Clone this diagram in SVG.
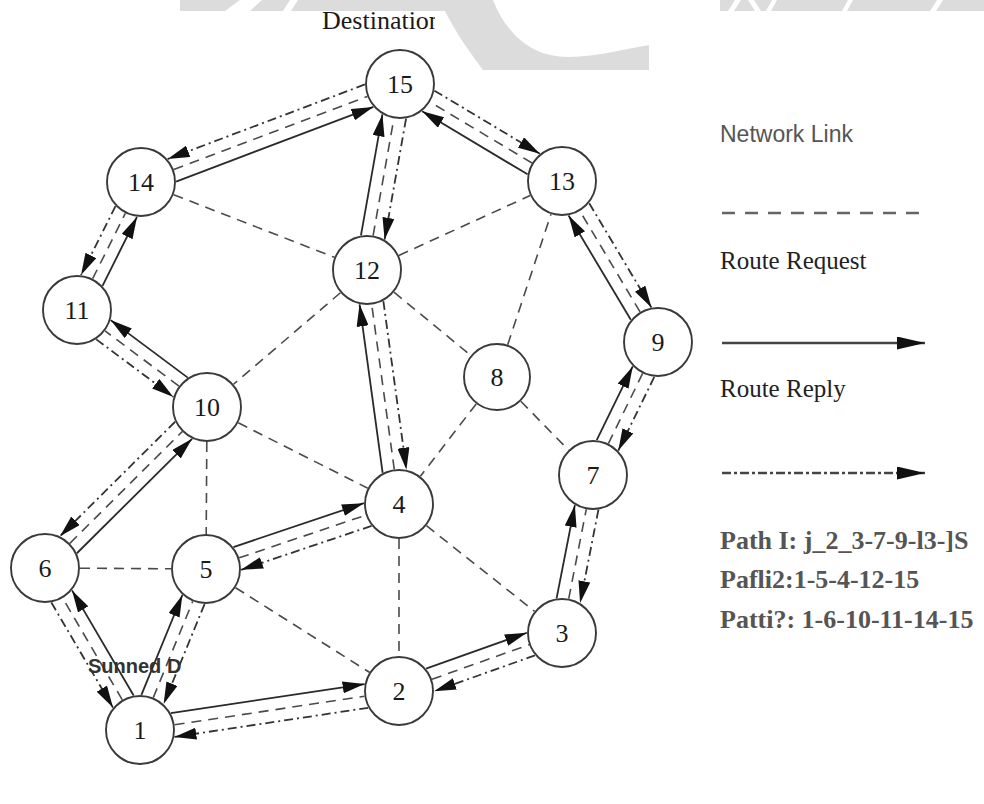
<svg xmlns="http://www.w3.org/2000/svg" width="984" height="804" viewBox="0 0 984 804">
  <style>
    .node circle { fill: #fff; stroke: #3a3a3a; stroke-width: 1.9; }
    .node text { font-family: "Liberation Serif", serif; font-size: 26px; fill: #1a1a1a; text-anchor: middle; }
    .link { stroke: #4a4a4a; stroke-width: 1.6; stroke-dasharray: 10 7; fill: none; }
    .req { stroke: #2a2a2a; stroke-width: 1.8; fill: none; marker-end: url(#ah); }
    .rep { stroke: #333; stroke-width: 1.8; fill: none; stroke-dasharray: 9 4 2 4; marker-end: url(#ah); }
    .wm { fill: #dcdcdc; }
    .legend-sans { font-family: "Liberation Sans", Arial, sans-serif; font-size: 23px; fill: #555; }
    .legend-serif { font-family: "Liberation Serif", serif; font-size: 25px; fill: #222; }
    .paths { font-family: "Liberation Serif", serif; font-size: 26px; font-weight: bold; fill: #555; }
  </style>
  <defs>
    <marker id="ah" markerUnits="userSpaceOnUse" markerWidth="22" markerHeight="12" refX="22" refY="6" orient="auto">
      <path d="M0,0 L22,6 L0,12 Z" fill="#111"/>
    </marker>
    <marker id="ahL" markerUnits="userSpaceOnUse" markerWidth="28" markerHeight="13" refX="28" refY="6.5" orient="auto">
      <path d="M0,0 L28,6.5 L0,13 Z" fill="#111"/>
    </marker>
    <clipPath id="titleClip"><rect x="300" y="0" width="135" height="60"/></clipPath>
  </defs>

  <rect width="984" height="804" fill="#fff"/>

  <!-- faint background mark along the top edge -->
  <g id="backdrop">
    <rect class="wm" x="180" y="0" width="265" height="11"/>
    <polygon points="225,11 240,0 262,0 250,11" fill="#fff"/>
    <polygon points="283,11 290,0 298,0 291,11" fill="#fff"/>
    <path class="wm" d="M440,0 L493,0 C508,38 535,57 568,57 C598,57 628,48 649,45 L649,70 L483,70 C465,46 450,24 440,0 Z"/>
    <rect class="wm" x="720" y="0" width="264" height="11"/>
    <polygon points="728,11 735,0 741,0 734,11" fill="#fff"/>
    <polygon points="748,0 755,11 761,11 754,0" fill="#fff"/>
    <polygon points="766,11 772,0 777,0 771,11" fill="#fff"/>
    <polygon points="842,11 848,0 853,0 847,11" fill="#fff"/>
    <polygon points="930,11 937,0 943,0 936,11" fill="#fff"/>
  </g>

  <text x="322" y="29" clip-path="url(#titleClip)" font-family="'Liberation Serif', serif" font-size="26" fill="#1a1a1a">Destination</text>

  <g id="connectors">
    <!-- plain network links -->
    <line class="link" x1="173.61" y1="194.70" x2="334.39" y2="257.30"/>
    <line class="link" x1="398.84" y1="255.47" x2="530.16" y2="195.53"/>
    <line class="link" x1="340.41" y1="292.76" x2="233.59" y2="384.24"/>
    <line class="link" x1="394.02" y1="292.24" x2="470.75" y2="355.39"/>
    <line class="link" x1="507.70" y1="344.73" x2="550.98" y2="214.22"/>
    <line class="link" x1="476.23" y1="403.92" x2="420.38" y2="476.29"/>
    <line class="link" x1="520.79" y1="401.29" x2="568.51" y2="450.00"/>
    <line class="link" x1="238.24" y1="422.78" x2="367.76" y2="488.22"/>
    <line class="link" x1="206.8" y1="442" x2="206.2" y2="534"/>
    <line class="link" x1="80" y1="568.2" x2="171" y2="568.8"/>
    <line class="link" x1="235.58" y1="587.70" x2="369.42" y2="672.30"/>
    <line class="link" x1="399" y1="539" x2="399" y2="656"/>
    <line class="link" x1="426.44" y1="525.72" x2="534.56" y2="611.28"/>

    <!-- path 1: 1-2-3-7-9-13-15 -->
    <line class="req" x1="170.84" y1="713.22" x2="364.58" y2="684.04"/>
    <line class="link" x1="174.61" y1="724.79" x2="364.39" y2="696.21"/>
    <line class="rep" x1="368.16" y1="707.78" x2="174.42" y2="736.96"/>

    <line class="req" x1="426.07" y1="668.63" x2="526.89" y2="632.75"/>
    <line class="link" x1="431.98" y1="679.27" x2="529.02" y2="644.73"/>
    <line class="rep" x1="534.93" y1="655.37" x2="434.11" y2="691.25"/>

    <line class="req" x1="556.58" y1="598.31" x2="574.87" y2="505.07"/>
    <line class="link" x1="568.74" y1="598.65" x2="586.26" y2="509.35"/>
    <line class="rep" x1="598.43" y1="509.69" x2="580.13" y2="602.93"/>

    <line class="req" x1="596.71" y1="440.08" x2="632.73" y2="366.38"/>
    <line class="link" x1="608.37" y1="443.55" x2="642.63" y2="373.45"/>
    <line class="rep" x1="654.29" y1="376.92" x2="618.27" y2="450.62"/>

    <line class="req" x1="630.79" y1="319.81" x2="568.59" y2="215.49"/>
    <line class="link" x1="640.07" y1="311.94" x2="579.92" y2="211.06"/>
    <line class="rep" x1="589.21" y1="203.19" x2="651.41" y2="307.51"/>

    <line class="req" x1="527.53" y1="174.35" x2="422.15" y2="111.25"/>
    <line class="link" x1="531.97" y1="163.02" x2="430.03" y2="101.98"/>
    <line class="rep" x1="434.47" y1="90.65" x2="539.85" y2="153.75"/>

    <!-- path 2: 1-5-4-12-15 -->
    <line class="req" x1="141.41" y1="694.92" x2="182.38" y2="594.98"/>
    <line class="link" x1="153.28" y1="697.61" x2="192.72" y2="601.39"/>
    <line class="rep" x1="204.58" y1="604.08" x2="163.62" y2="704.02"/>

    <line class="req" x1="233.44" y1="547.10" x2="363.90" y2="503.16"/>
    <line class="link" x1="239.17" y1="557.83" x2="365.83" y2="515.17"/>
    <line class="rep" x1="371.56" y1="525.90" x2="241.10" y2="569.84"/>

    <line class="req" x1="382.64" y1="472.93" x2="359.58" y2="304.33"/>
    <line class="link" x1="394.26" y1="469.32" x2="371.74" y2="304.68"/>
    <line class="rep" x1="383.36" y1="301.07" x2="406.42" y2="469.67"/>

    <line class="req" x1="360.95" y1="235.41" x2="382.42" y2="114.39"/>
    <line class="link" x1="373.11" y1="235.54" x2="393.89" y2="118.46"/>
    <line class="rep" x1="406.06" y1="118.59" x2="384.58" y2="239.61"/>

    <!-- path 3: 1-6-10-11-14-15 -->
    <line class="req" x1="133.66" y1="695.46" x2="72.04" y2="590.40"/>
    <line class="link" x1="122.29" y1="699.81" x2="62.71" y2="598.19"/>
    <line class="rep" x1="51.34" y1="602.54" x2="112.96" y2="707.60"/>

    <line class="req" x1="76.87" y1="553.25" x2="192.05" y2="438.77"/>
    <line class="link" x1="69.82" y1="543.33" x2="182.18" y2="431.67"/>
    <line class="rep" x1="175.13" y1="421.75" x2="59.95" y2="536.23"/>

    <line class="req" x1="187.73" y1="377.65" x2="110.63" y2="320.11"/>
    <line class="link" x1="178.95" y1="386.07" x2="105.05" y2="330.93"/>
    <line class="rep" x1="96.27" y1="339.35" x2="173.37" y2="396.89"/>

    <line class="req" x1="102.49" y1="285.85" x2="136.97" y2="216.89"/>
    <line class="link" x1="92.65" y1="278.70" x2="125.35" y2="213.30"/>
    <line class="rep" x1="115.51" y1="206.15" x2="81.03" y2="275.11"/>

    <line class="req" x1="176.11" y1="181.55" x2="373.39" y2="106.90"/>
    <line class="link" x1="173.74" y1="169.61" x2="367.26" y2="96.39"/>
    <line class="rep" x1="364.89" y1="84.46" x2="167.61" y2="159.10"/>
  </g>

  <g id="n1" class="node"><circle cx="140" cy="730" r="34"/><text x="140" y="739">1</text></g>
  <g id="n2" class="node"><circle cx="399" cy="691" r="34"/><text x="399" y="700">2</text></g>
  <g id="n3" class="node"><circle cx="562" cy="633" r="34"/><text x="562" y="642">3</text></g>
  <g id="n4" class="node"><circle cx="399" cy="504" r="34"/><text x="399" y="513">4</text></g>
  <g id="n5" class="node"><circle cx="206" cy="569" r="34"/><text x="206" y="578">5</text></g>
  <g id="n6" class="node"><circle cx="45" cy="568" r="34"/><text x="45" y="577">6</text></g>
  <g id="n7" class="node"><circle cx="593" cy="475" r="34"/><text x="593" y="484">7</text></g>
  <g id="n8" class="node"><circle cx="497" cy="377" r="33"/><text x="497" y="386">8</text></g>
  <g id="n9" class="node"><circle cx="658" cy="342" r="34"/><text x="658" y="351">9</text></g>
  <g id="n10" class="node"><circle cx="207" cy="407" r="34"/><text x="207" y="416">10</text></g>
  <g id="n11" class="node"><circle cx="77" cy="310" r="34"/><text x="77" y="319">11</text></g>
  <g id="n12" class="node"><circle cx="367" cy="270" r="34"/><text x="367" y="279">12</text></g>
  <g id="n13" class="node"><circle cx="562" cy="181" r="34"/><text x="562" y="190">13</text></g>
  <g id="n14" class="node"><circle cx="141" cy="182" r="34"/><text x="141" y="191">14</text></g>
  <g id="n15" class="node"><circle cx="400" cy="84" r="34"/><text x="400" y="93">15</text></g>

  <text x="88" y="673" font-family="'Liberation Sans', Arial, sans-serif" font-size="20" font-weight="bold" fill="#333">Sunned D</text>

  <g id="legend">
    <text class="legend-sans" x="720" y="142">Network Link</text>
    <line x1="722" y1="213" x2="923" y2="213" stroke="#666" stroke-width="2.5" stroke-dasharray="13 10"/>
    <text class="legend-serif" x="720" y="269">Route Request</text>
    <line x1="722" y1="343" x2="925" y2="343" stroke="#444" stroke-width="2.5" marker-end="url(#ahL)"/>
    <text class="legend-serif" x="720" y="397">Route Reply</text>
    <line x1="722" y1="473" x2="925" y2="473" stroke="#444" stroke-width="2.5" stroke-dasharray="9 3 3 3" marker-end="url(#ahL)"/>
    <text class="paths" x="720" y="549">Path I: j_2_3-7-9-l3-]S</text>
    <text class="paths" x="720" y="588">Pafli2:1-5-4-12-15</text>
    <text class="paths" x="720" y="628">Patti?: 1-6-10-11-14-15</text>
  </g>
</svg>
